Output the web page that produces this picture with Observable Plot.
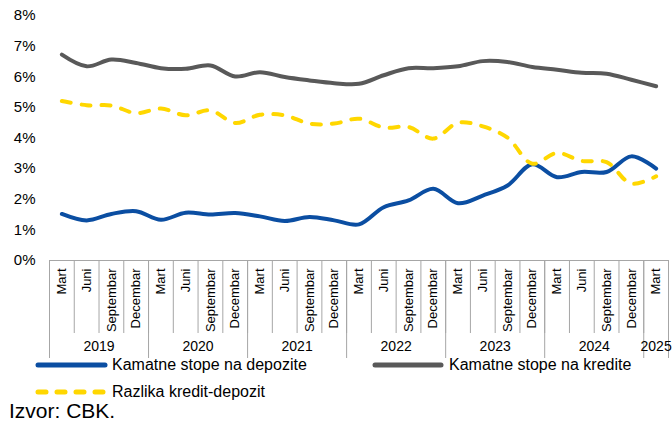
<!DOCTYPE html>
<html><head><meta charset="utf-8">
<script src="https://cdn.jsdelivr.net/npm/d3@7"></script>
<script src="https://cdn.jsdelivr.net/npm/@observablehq/plot@0.6"></script>
<style>
body{margin:0;background:#fff;font-family:"Liberation Sans",Arial,sans-serif;}
#wrap{position:relative;width:672px;height:421px;overflow:hidden;background:#fff;}
#chart{position:absolute;left:0;top:0;}
.lg{position:absolute;font-size:16px;color:#000;line-height:1;white-space:nowrap;}
.sw{position:absolute;overflow:visible;}
#src{position:absolute;left:9px;top:400px;font-size:21px;line-height:1;color:#000;white-space:nowrap;}
</style></head><body>
<div id="wrap">
<div id="chart"></div>
<svg class="sw" style="left:30px;top:355px" width="84" height="20"><line x1="8" y1="10" x2="75" y2="10" stroke="#0B4EA2" stroke-width="5" stroke-linecap="round"/></svg>
<div class="lg" style="left:112px;top:356.5px">Kamatne stope na depozite</div>
<svg class="sw" style="left:367px;top:355px" width="84" height="20"><line x1="8" y1="10" x2="74" y2="10" stroke="#595959" stroke-width="5" stroke-linecap="round"/></svg>
<div class="lg" style="left:449px;top:356.5px">Kamatne stope na kredite</div>
<svg class="sw" style="left:30px;top:382px" width="84" height="20"><line x1="8" y1="10" x2="75" y2="10" stroke="#FFD700" stroke-width="5" stroke-dasharray="8,11" stroke-linecap="round"/></svg>
<div class="lg" style="left:112px;top:384px">Razlika kredit-depozit</div>
<div id="src">Izvor: CBK.</div>
</div>
<script>
// Quarter labels and years
const quarterLabels = ["Mart","Juni","Septembar","Decembar","Mart","Juni","Septembar","Decembar","Mart","Juni","Septembar","Decembar","Mart","Juni","Septembar","Decembar","Mart","Juni","Septembar","Decembar","Mart","Juni","Septembar","Decembar","Mart"];
const yearLabels = [2019,2019,2019,2019,2020,2020,2020,2020,2021,2021,2021,2021,2022,2022,2022,2022,2023,2023,2023,2023,2024,2024,2024,2024,2025];
// Series (percent)
const depositRates = [1.52,1.31,1.52,1.61,1.33,1.56,1.50,1.55,1.44,1.29,1.42,1.31,1.18,1.74,1.96,2.34,1.87,2.12,2.45,3.14,2.72,2.89,2.89,3.40,3.00];
const loanRates = [6.72,6.34,6.56,6.45,6.28,6.26,6.37,6.01,6.15,5.99,5.88,5.79,5.77,6.05,6.28,6.28,6.34,6.51,6.48,6.32,6.23,6.13,6.10,5.90,5.69];
const spreadRates = [5.21,5.07,5.06,4.81,4.96,4.74,4.90,4.49,4.76,4.74,4.47,4.47,4.63,4.34,4.36,3.98,4.50,4.38,4.01,3.16,3.51,3.25,3.21,2.51,2.75];
const yTicks = [0,1,2,3,4,5,6,7,8];

const rows = quarterLabels.map((q, i) => ({i, q, year: yearLabels[i], dep: depositRates[i], loan: loanRates[i], spread: spreadRates[i]}));
const yearPos = d3.groups(rows, d => d.year).map(([year, rs]) => ({year, x: d3.mean(rs, r => r.i), first: rs[0].i}));
const quarterBounds = d3.range(rows.length + 1).map(i => i - 0.5);
const yearBounds = yearPos.map(d => d.first - 0.5).concat([rows.length - 0.5]);

const axisColor = "#A6A6A6";
const chart = Plot.plot({
  width: 672, height: 360,
  marginLeft: 49, marginRight: 4, marginTop: 15, marginBottom: 100,
  style: {fontFamily: "Liberation Sans, Arial, sans-serif", fontSize: "15px", color: "#000", background: "transparent", overflow: "visible"},
  x: {type: "linear", domain: [-0.5, rows.length - 0.5]},
  y: {domain: [0, 8]},
  marks: [
    Plot.axisY(yTicks, {tickSize: 0, tickPadding: 14, tickFormat: d => d + "%", label: null, fontSize: 15}),
    Plot.axisX(quarterBounds, {tickSize: 73, tickFormat: () => "", stroke: axisColor, label: null}),
    Plot.axisX(yearBounds, {tickSize: 98, tickFormat: () => "", stroke: axisColor, label: null}),
    Plot.ruleY([0], {stroke: axisColor}),
    Plot.text(rows, {x: "i", text: "q", frameAnchor: "bottom", rotate: -90, textAnchor: "end", lineAnchor: "middle", dy: 8, fontSize: 13}),
    Plot.text(yearPos, {x: "x", text: d => String(d.year), frameAnchor: "bottom", dy: 90.5, fontSize: 14}),
    Plot.line(rows, {x: "i", y: "dep", stroke: "#0B4EA2", strokeWidth: 4, curve: "catmull-rom"}),
    Plot.line(rows, {x: "i", y: "loan", stroke: "#595959", strokeWidth: 4, curve: "catmull-rom"}),
    Plot.line(rows, {x: "i", y: "spread", stroke: "#FFD700", strokeWidth: 4, strokeDasharray: "9,11", curve: "catmull-rom"})
  ]
});
document.getElementById("chart").appendChild(chart);
</script>
</body></html>
